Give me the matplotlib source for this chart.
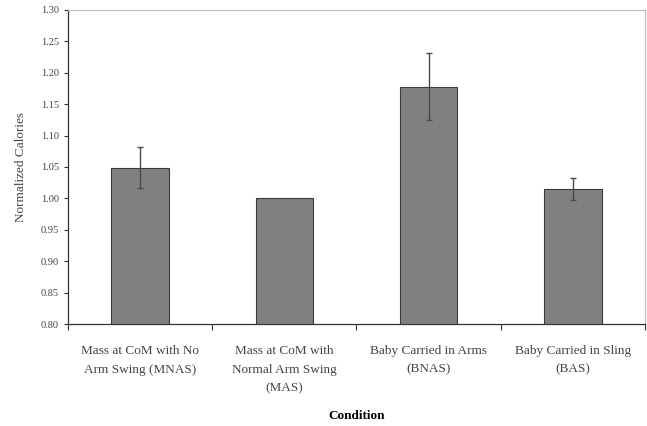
import numpy as np
import matplotlib.pyplot as plt

# values
conditions = ['Mass at CoM with No\nArm Swing (MNAS)',
              'Mass at CoM with\nNormal Arm Swing\n(MAS)',
              'Baby Carried in Arms\n(BNAS)',
              'Baby Carried in Sling\n(BAS)']
calories = [1.049, 1.000, 1.178, 1.015]
errors = [0.032, 0.0, 0.053, 0.018]
yticks = np.arange(0.80, 1.301, 0.05)

plt.rcParams['font.family'] = ['Liberation Serif', 'DejaVu Serif']

fig = plt.figure(figsize=(6.47, 4.26), dpi=100)
ax = fig.add_axes([0.105, 0.239, 0.892, 0.738])

x = np.arange(len(conditions))
ax.bar(x, calories, width=0.4, color='#808080', edgecolor='#3a3a3a', linewidth=0.8, zorder=2)

# the reference (MAS) bar has no error bar, so skip zero errors
has_err = np.array(errors) > 0
ax.errorbar(x[has_err], np.array(calories)[has_err], yerr=np.array(errors)[has_err],
            fmt='none', ecolor='#4a4a4a', elinewidth=1.0, capsize=2.5, capthick=1.0, zorder=3)

ax.set_xlim(-0.5, len(conditions) - 0.5)
ax.set_ylim(0.80, 1.30)
ax.set_yticks(yticks)
ax.set_yticklabels([f'{v:.2f}' for v in yticks], fontsize=7.5, color='#444444')

# category boundaries carry the tick marks, labels sit at centres
ax.set_xticks(np.arange(-0.5, len(conditions)), labels=[''] * (len(conditions) + 1))
ax.set_xticks(x, labels=conditions, minor=True, fontsize=9.5, color='#444444')
for lbl in ax.get_xticklabels(minor=True):
    lbl.set_linespacing(1.75)
ax.tick_params(axis='x', which='minor', length=0, pad=15)
ax.tick_params(axis='x', which='major', length=4, direction='out', color='#333333')
ax.tick_params(axis='y', length=3, direction='out', color='#333333')

for s in ['left', 'bottom']:
    ax.spines[s].set_color('#333333')
    ax.spines[s].set_linewidth(0.9)
for s in ['top', 'right']:
    ax.spines[s].set_color('#bbbbbb')
    ax.spines[s].set_linewidth(0.8)

ax.set_ylabel('Normalized Calories', fontsize=9.5, color='#444444', labelpad=10)
ax.set_xlabel('Condition', fontsize=9.5, fontweight='bold', labelpad=11)

fig.savefig('out.png', dpi=100)
